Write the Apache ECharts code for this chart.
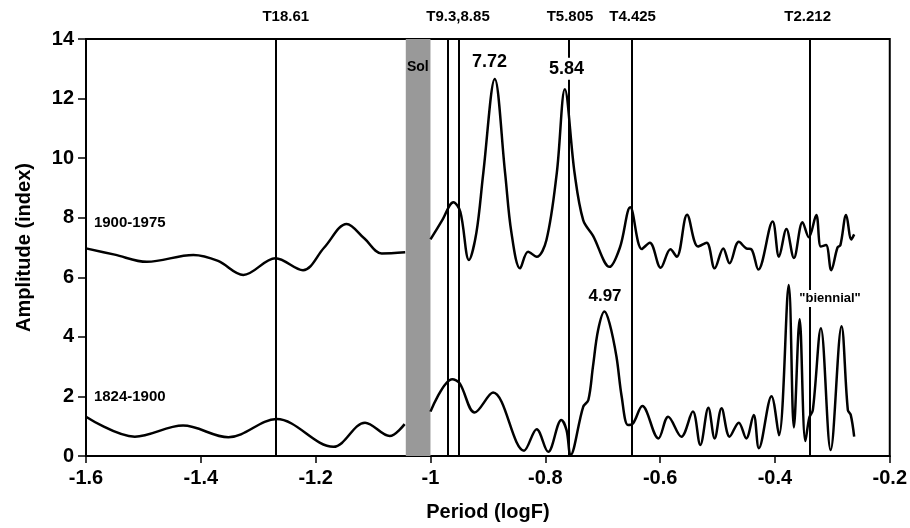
<!DOCTYPE html>
<html>
<head>
<meta charset="utf-8">
<title>Amplitude spectrum</title>
<script src="https://cdn.jsdelivr.net/npm/echarts@6/dist/echarts.min.js"></script>
<style>
  html, body { margin: 0; padding: 0; background: #fff; }
  #chart { width: 910px; height: 528px; }
</style>
</head>
<body>
<div id="chart"></div>
<script>
  // x axis ticks (period, logF) and y axis ticks (amplitude)
  const xTicks = [-1.6, -1.4, -1.2, -1, -0.8, -0.6, -0.4, -0.2]
  const yTicks = [0, 2, 4, 6, 8, 10, 12, 14]

  // 1900-1975 spectrum, split by the solar band
  const upperLeft = [
    [-1.600, 6.97], [-1.550, 6.76], [-1.494, 6.52], [-1.413, 6.75], [-1.370, 6.55],
    [-1.326, 6.08], [-1.270, 6.64], [-1.222, 6.24], [-1.185, 7.00], [-1.146, 7.79],
    [-1.115, 7.30], [-1.085, 6.80], [-1.044, 6.84]
  ]
  const upperRight = [
    [-1.000, 7.27], [-0.980, 7.90], [-0.960, 8.52], [-0.948, 8.20], [-0.933, 6.58],
    [-0.920, 7.50], [-0.908, 9.50], [-0.888, 12.66], [-0.870, 9.50], [-0.859, 7.50],
    [-0.844, 6.30], [-0.830, 6.86], [-0.815, 6.69], [-0.798, 7.25], [-0.780, 9.50],
    [-0.766, 12.31], [-0.749, 9.50], [-0.734, 7.92], [-0.717, 7.40], [-0.688, 6.35],
    [-0.670, 7.00], [-0.652, 8.35], [-0.632, 6.95], [-0.618, 7.16], [-0.599, 6.32],
    [-0.582, 6.94], [-0.571, 6.69], [-0.553, 8.10], [-0.534, 7.03], [-0.519, 7.16],
    [-0.505, 6.30], [-0.490, 6.97], [-0.479, 6.47], [-0.463, 7.19], [-0.450, 6.97],
    [-0.441, 6.94], [-0.429, 6.26], [-0.404, 7.87], [-0.393, 6.69], [-0.380, 7.62],
    [-0.367, 6.65], [-0.352, 7.85], [-0.341, 7.34], [-0.328, 8.09], [-0.320, 7.03],
    [-0.311, 7.08], [-0.302, 6.24], [-0.291, 7.00], [-0.286, 7.08], [-0.276, 8.09],
    [-0.267, 7.27], [-0.262, 7.44]
  ]

  // 1824-1900 spectrum
  const lowerLeft = [
    [-1.600, 1.32], [-1.515, 0.65], [-1.431, 1.02], [-1.352, 0.63], [-1.268, 1.24],
    [-1.169, 0.31], [-1.114, 1.12], [-1.071, 0.67], [-1.045, 1.07]
  ]
  const lowerRight = [
    [-1.000, 1.49], [-0.962, 2.58], [-0.949, 2.44], [-0.923, 1.46], [-0.891, 2.13],
    [-0.837, 0.18], [-0.815, 0.90], [-0.795, 0.14], [-0.772, 1.21], [-0.763, 0.87],
    [-0.756, 0.03], [-0.734, 1.65], [-0.725, 1.88], [-0.717, 3.00], [-0.708, 4.23],
    [-0.697, 4.85], [-0.688, 4.45], [-0.676, 3.33], [-0.667, 2.00], [-0.656, 1.04],
    [-0.647, 1.10], [-0.631, 1.68], [-0.603, 0.59],
    [-0.586, 1.32], [-0.563, 0.65], [-0.543, 1.49], [-0.530, 0.37], [-0.516, 1.62],
    [-0.505, 0.59], [-0.493, 1.60], [-0.479, 0.65], [-0.463, 1.12], [-0.450, 0.59],
    [-0.437, 1.38], [-0.428, 0.26], [-0.406, 2.01], [-0.393, 0.70], [-0.376, 5.74],
    [-0.367, 0.96], [-0.357, 4.59], [-0.347, 0.50], [-0.340, 1.30], [-0.334, 1.54],
    [-0.320, 4.29], [-0.303, 0.20], [-0.284, 4.36], [-0.273, 1.54], [-0.268, 1.38],
    [-0.262, 0.65]
  ]

  // tidal / solar reference periods
  const refLineX = [-1.27, -0.968, -0.947, -0.764, -0.646, -0.345]
  const refLabelText = ['T18.61', 'T9.3,8.85', 'T5.805', 'T4.425', 'T2.212']
  const refLabelX = [-1.252, -0.952, -0.757, -0.648, -0.343]
  const solBand = [-1.043, -1.0]

  // in-plot notes
  const noteText = ['1900-1975', '1824-1900', 'Sol', '7.72', '5.84', '4.97', '"biennial"']
  const noteX = [-1.588, -1.588, -1.022, -0.897, -0.763, -0.696, -0.304]
  const noteY = [7.82, 1.99, 13.07, 13.24, 13.0, 5.35, 5.29]
  const noteSize = [15, 15, 14, 18, 18, 17, 13]
  const noteAlign = ['left', 'left', 'center', 'center', 'center', 'center', 'center']

  const font = '"Liberation Sans", Arial, sans-serif'

  let myChart = echarts.init(document.getElementById('chart'))

  let curveStyle = { color: '#000', width: 2.5 }
  let curve = function (name, data) {
    return {
      name: name,
      type: 'line',
      data: data,
      smooth: 0.35,
      symbol: 'none',
      lineStyle: curveStyle,
      z: 3,
      silent: true
    }
  }

  let notes = noteText.map(function (t, i) {
    let bg = (t === '5.84' || t === '"biennial"') ? '#fff' : 'transparent'
    return {
      value: [noteX[i], noteY[i]],
      name: t,
      label: {
        show: true,
        formatter: t,
        position: 'inside',
        align: noteAlign[i],
        verticalAlign: 'middle',
        fontSize: noteSize[i],
        fontWeight: 'bold',
        fontFamily: font,
        color: '#000',
        opacity: 1,
        backgroundColor: bg,
        padding: [2, 1]
      }
    }
  })

  let topLabels = refLabelText.map(function (t, i) {
    return {
      value: [refLabelX[i], 14],
      name: t,
      label: {
        show: true,
        formatter: t,
        position: 'top',
        distance: 15,
        fontSize: 15,
        fontWeight: 'bold',
        fontFamily: font,
        color: '#000',
        opacity: 1
      }
    }
  })

  let option = {
    animation: false,
    backgroundColor: '#fff',
    grid: {
      left: 86,
      right: 20,
      top: 39,
      bottom: 72,
      show: true,
      borderColor: '#000',
      borderWidth: 2
    },
    xAxis: {
      type: 'value',
      min: xTicks[0],
      max: xTicks[xTicks.length - 1],
      interval: 0.2,
      name: 'Period (logF)',
      nameLocation: 'middle',
      nameGap: 46,
      nameTextStyle: { fontSize: 20, fontWeight: 'bold', fontFamily: font, color: '#000' },
      axisLine: { show: true, onZero: false, lineStyle: { color: '#000', width: 2 } },
      axisTick: { show: true, length: 7, lineStyle: { color: '#000', width: 1.5 } },
      splitLine: { show: false },
      axisLabel: {
        color: '#000',
        fontSize: 20,
        fontWeight: 'bold',
        fontFamily: font,
        margin: 12,
        formatter: function (v) {
          return String(Math.round(v * 10) / 10)
        }
      }
    },
    yAxis: {
      type: 'value',
      min: yTicks[0],
      max: yTicks[yTicks.length - 1],
      interval: 2,
      name: 'Amplitude (index)',
      nameLocation: 'middle',
      nameGap: 52,
      nameTextStyle: { fontSize: 20, fontWeight: 'bold', fontFamily: font, color: '#000' },
      axisLine: { show: true, lineStyle: { color: '#000', width: 2 } },
      axisTick: { show: true, length: 8, lineStyle: { color: '#000', width: 1.5 } },
      splitLine: { show: false },
      axisLabel: {
        color: '#000',
        fontSize: 20,
        fontWeight: 'bold',
        fontFamily: font,
        margin: 12
      }
    },
    series: [
      {
        name: 'refs',
        type: 'line',
        data: [],
        silent: true,
        z: 2,
        markArea: {
          silent: true,
          itemStyle: { color: '#999999' },
          data: [[{ xAxis: solBand[0] }, { xAxis: solBand[1] }]]
        },
        markLine: {
          silent: true,
          symbol: 'none',
          animation: false,
          label: { show: false },
          lineStyle: { color: '#000', width: 2, type: 'solid' },
          data: refLineX.map(function (x) { return { xAxis: x } })
        }
      },
      curve('1900-1975 a', upperLeft),
      curve('1900-1975 b', upperRight),
      curve('1824-1900 a', lowerLeft),
      curve('1824-1900 b', lowerRight),
      {
        name: 'notes',
        type: 'scatter',
        symbolSize: 0,
        silent: true,
        z: 10,
        itemStyle: { opacity: 1 },
        data: notes
      },
      {
        name: 'periods',
        type: 'scatter',
        symbolSize: 0,
        silent: true,
        z: 10,
        itemStyle: { opacity: 1 },
        data: topLabels
      }
    ]
  }
  myChart.setOption(option)
</script>
</body>
</html>
